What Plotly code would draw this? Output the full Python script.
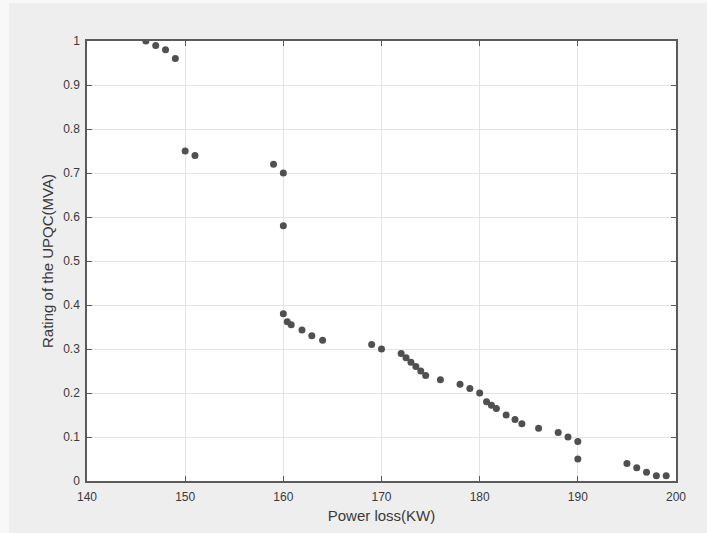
import plotly.graph_objects as go

# Power loss (KW) against UPQC rating (MVA)
power_loss = [146, 147, 148, 149, 150, 151, 159, 160, 160, 160, 160.4, 160.8,
              161.9, 162.9, 164, 169, 170, 172, 172.5, 173, 173.5, 174, 174.5,
              176, 178, 179, 180, 180.7, 181.2, 181.7, 182.7, 183.6, 184.3,
              186, 188, 189, 190, 190, 195, 196, 197, 198, 199]
rating = [1.0, 0.99, 0.98, 0.96, 0.75, 0.74, 0.72, 0.70, 0.58, 0.38, 0.362, 0.355,
          0.343, 0.33, 0.32, 0.31, 0.30, 0.29, 0.28, 0.27, 0.26, 0.25, 0.24,
          0.23, 0.22, 0.21, 0.20, 0.18, 0.172, 0.165, 0.15, 0.14, 0.13,
          0.12, 0.11, 0.10, 0.09, 0.05, 0.04, 0.03, 0.02, 0.012, 0.012]

x_ticks = [140, 150, 160, 170, 180, 190, 200]
y_ticks = [0, 0.1, 0.2, 0.3, 0.4, 0.5, 0.6, 0.7, 0.8, 0.9, 1]
y_tick_text = ["0", "0.1", "0.2", "0.3", "0.4", "0.5", "0.6", "0.7", "0.8", "0.9", "1"]

FONT = "Liberation Sans, Arial, sans-serif"
TEXT = "#3a3a3a"
AXIS = "#5a5a5a"
GRID = "#e4e4e4"

fig = go.Figure(
    go.Scatter(
        x=power_loss, y=rating, mode="markers",
        marker=dict(symbol="circle", size=7, color="#505050", line=dict(width=0)),
        hoverinfo="x+y",
    )
)

axis_common = dict(
    showline=True, linecolor=AXIS, linewidth=1.5, mirror="ticks",
    ticks="inside", ticklen=5, tickwidth=1, tickcolor=AXIS,
    showgrid=True, gridcolor=GRID, gridwidth=1, zeroline=False,
    tickfont=dict(family=FONT, size=12, color=TEXT),
)

fig.update_xaxes(
    range=[140, 200], tickvals=x_ticks, ticklabelstandoff=4,
    title=dict(text="Power loss(KW)", font=dict(family=FONT, size=15, color=TEXT), standoff=7),
    **axis_common,
)
fig.update_yaxes(
    range=[0, 1], tickvals=y_ticks, ticktext=y_tick_text, ticklabelstandoff=3,
    title=dict(text="Rating of the UPQC(MVA)", font=dict(family=FONT, size=15, color=TEXT), standoff=6),
    **axis_common,
)

fig.update_layout(
    width=707, height=533,
    margin=dict(l=87, r=31, t=41, b=52, autoexpand=False),
    paper_bgcolor="#f8f8f8",
    plot_bgcolor="white",
    showlegend=False,
    shapes=[
        # grey figure panel, leaving a pale strip along the top and left edges
        dict(type="rect", xref="paper", yref="paper", layer="below",
             x0=-0.1324, x1=1.06, y0=-0.13, y1=1.0864,
             fillcolor="#eeeeee", line=dict(width=0)),
        dict(type="rect", xref="paper", yref="paper", layer="below",
             x0=0, x1=1, y0=0, y1=1,
             fillcolor="white", line=dict(width=0)),
    ],
)

fig.write_html("out.html")
